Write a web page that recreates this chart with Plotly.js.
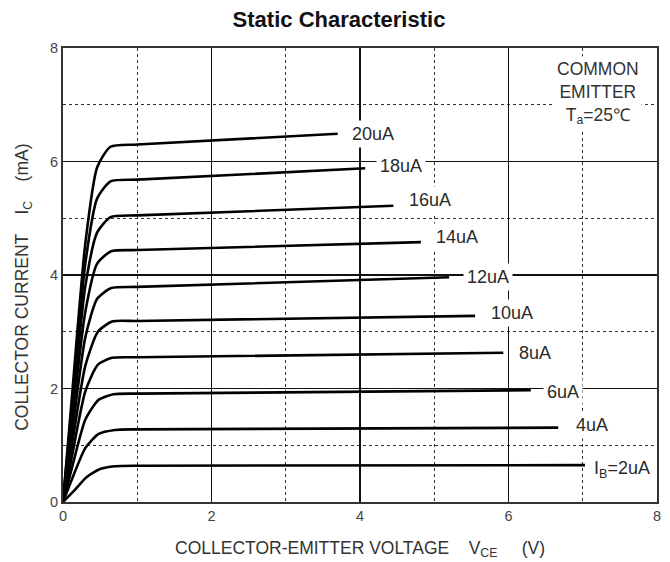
<!DOCTYPE html>
<html><head><meta charset="utf-8">
<script src="https://cdn.plot.ly/plotly-3.0.1.min.js"></script>
<style>html,body{margin:0;padding:0;background:#fff}</style>
</head><body><div id="chart" style="width:670px;height:562px"></div>
<script>
// Base currents (labels) and curve data: Vce (V) vs Ic (mA)
const ibLabels = ["I<sub>B</sub>=2uA","4uA","6uA","8uA","10uA","12uA","14uA","16uA","18uA","20uA"];
const vce2  = [0, 0.15, 0.32, 0.5, 0.7, 1.0, 7.03];
const ic2   = [0, 0.20, 0.44, 0.58, 0.63, 0.64, 0.65];
const vce4  = [0, 0.12, 0.30, 0.48, 0.70, 1.0, 6.67];
const ic4   = [0, 0.40, 0.95, 1.20, 1.27, 1.28, 1.31];
const vce6  = [0, 0.12, 0.30, 0.48, 0.68, 1.0, 6.30];
const ic6   = [0, 0.60, 1.45, 1.80, 1.90, 1.91, 1.97];
const vce8  = [0, 0.12, 0.30, 0.47, 0.66, 1.0, 5.93];
const ic8   = [0, 0.80, 1.95, 2.42, 2.54, 2.55, 2.63];
const vce10 = [0, 0.12, 0.30, 0.47, 0.66, 1.0, 5.55];
const ic10  = [0, 1.00, 2.40, 3.00, 3.18, 3.19, 3.28];
const vce12 = [0, 0.12, 0.30, 0.46, 0.65, 1.0, 5.20];
const ic12  = [0, 1.20, 2.90, 3.58, 3.77, 3.79, 3.96];
const vce14 = [0, 0.12, 0.30, 0.46, 0.65, 1.0, 4.82];
const ic14  = [0, 1.40, 3.35, 4.20, 4.42, 4.44, 4.58];
const vce16 = [0, 0.12, 0.30, 0.46, 0.64, 1.0, 4.45];
const ic16  = [0, 1.55, 3.80, 4.75, 5.02, 5.05, 5.22];
const vce18 = [0, 0.12, 0.30, 0.46, 0.64, 1.0, 4.07];
const ic18  = [0, 1.70, 4.20, 5.35, 5.65, 5.68, 5.88];
const vce20 = [0, 0.12, 0.30, 0.46, 0.64, 1.0, 3.70];
const ic20  = [0, 1.85, 4.55, 5.90, 6.26, 6.30, 6.49];
// label anchor positions (data coords)
const labelX = [7.1, 6.85, 6.46, 6.09, 5.71, 5.39, 4.97, 4.61, 4.22, 3.84];
const labelY = [0.57, 1.36, 1.94, 2.62, 3.33, 3.96, 4.67, 5.32, 5.92, 6.48];
const xTicks = [0, 2, 4, 6, 8];
const yTicks = [0, 2, 4, 6, 8];
const minorTicks = [1, 3, 5, 7];

const xs = [vce2,vce4,vce6,vce8,vce10,vce12,vce14,vce16,vce18,vce20];
const ys = [ic2,ic4,ic6,ic8,ic10,ic12,ic14,ic16,ic18,ic20];

const traces = xs.map((x,i)=>({
  x:x, y:ys[i], type:'scatter', mode:'lines', name:ibLabels[i],
  line:{color:'#000', width:2.6, shape:'spline', smoothing:0.6},
  hoverinfo:'skip', showlegend:false
}));

const FF = 'Liberation Sans, Arial, sans-serif';
const annotations = ibLabels.map((t,i)=>({
  x:labelX[i], y:labelY[i], xref:'x', yref:'y', text:t, showarrow:false,
  xanchor:'left', yanchor:'middle', bgcolor:'#fff', borderpad:3,
  font:{family:FF, size:18, color:'#2a2a2a'}
}));
annotations.push({
  x:7.2, y:7.2, xref:'x', yref:'y', showarrow:false, xanchor:'center', yanchor:'middle',
  text:'COMMON<br>EMITTER<br>T<sub>a</sub>=25℃', align:'center', bgcolor:'#fff', borderpad:2,
  font:{family:FF, size:17.5, color:'#333'}
});

const axisCommon = {
  range:[0,8], showline:true, linecolor:'#333', linewidth:2, mirror:true,
  showgrid:true, gridcolor:'#111', gridwidth:1.4, zeroline:false,
  ticks:'', tickfont:{family:FF, size:14.5, color:'#444'},
  minor:{tickvals:minorTicks, showgrid:true, gridcolor:'#333', gridwidth:1.3, griddash:'dot', ticks:''}
};

const layout = {
  width:670, height:562,
  margin:{l:63, r:13, t:48, b:60},
  paper_bgcolor:'#fff', plot_bgcolor:'#fff',
  title:{text:'<b>Static Characteristic</b>', x:339/670, xref:'container', xanchor:'center', y:1-19/562, yref:'container', yanchor:'middle',
    font:{family:FF, size:22, color:'#111'}},
  xaxis:Object.assign({}, axisCommon, {tickvals:xTicks, ticktext:xTicks.map(String),
    title:{text:'COLLECTOR-EMITTER VOLTAGE    V<sub>CE</sub>     (V)', standoff:18,
      font:{family:FF, size:17.5, color:'#333'}}}),
  yaxis:Object.assign({}, axisCommon, {tickvals:yTicks, ticktext:yTicks.map(String),
    title:{text:'COLLECTOR CURRENT    I<sub>C</sub>    (mA)&nbsp;&nbsp;&nbsp;&nbsp;&nbsp;', standoff:17,
      font:{family:FF, size:17.5, color:'#333'}}}),
  annotations:annotations
};

Plotly.newPlot('chart', traces, layout, {displayModeBar:false, staticPlot:true});
</script>
</body></html>
